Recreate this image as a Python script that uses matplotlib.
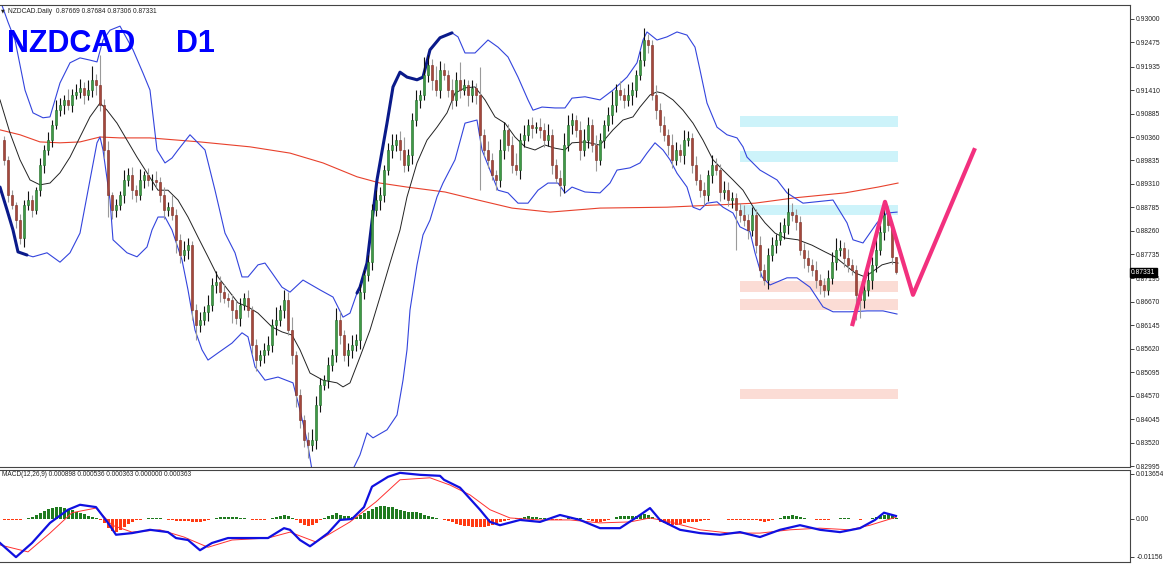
import matplotlib
matplotlib.use("Agg")
import matplotlib.pyplot as plt
import numpy as np

# ---- daily candles (one bar per day), price ----
first_open = 0.9029
closes = [
    0.8985, 0.8906, 0.8884, 0.8850, 0.8810, 0.8884, 0.8895, 0.8873, 0.8917, 0.8973,
    0.9007, 0.9029, 0.9063, 0.9096, 0.9108, 0.9119, 0.9108, 0.9130, 0.9137, 0.9146,
    0.9130, 0.9141, 0.9164, 0.9152, 0.9108, 0.9007, 0.8906, 0.8873, 0.8884, 0.8906,
    0.8940, 0.8951, 0.8917, 0.8906, 0.8940, 0.8951, 0.8940, 0.8940, 0.8935, 0.8906,
    0.8873, 0.8880, 0.8862, 0.8806, 0.8772, 0.8783, 0.8794, 0.8649, 0.8615, 0.8627,
    0.8645, 0.8660, 0.8705, 0.8712, 0.8689, 0.8676, 0.8671, 0.8649, 0.8631, 0.8660,
    0.8676, 0.8649, 0.8571, 0.8537, 0.8548, 0.8560, 0.8571, 0.8615, 0.8627, 0.8649,
    0.8671, 0.8604, 0.8548, 0.8459, 0.8403, 0.8358, 0.8347, 0.8358, 0.8437, 0.8481,
    0.8492, 0.8526, 0.8548, 0.8627, 0.8593, 0.8548, 0.8560, 0.8571, 0.8582, 0.8689,
    0.8727, 0.8756, 0.8873, 0.8895, 0.8906, 0.8962, 0.9007, 0.9018, 0.9029, 0.9007,
    0.8973, 0.8996, 0.9074, 0.9119, 0.9130, 0.9175, 0.9197, 0.9164, 0.9141, 0.9186,
    0.9175, 0.9141, 0.9119, 0.9164, 0.9141, 0.9152, 0.9130, 0.9146, 0.9130, 0.9041,
    0.9007, 0.8985, 0.8951, 0.8940, 0.9007, 0.9052, 0.9018, 0.8973, 0.8962, 0.9029,
    0.9041, 0.9063, 0.9056, 0.9058, 0.9052, 0.9029, 0.9041, 0.8973, 0.8944, 0.8929,
    0.9018, 0.9063, 0.9074, 0.9052, 0.9007, 0.9029, 0.9063, 0.9018, 0.8985, 0.9029,
    0.9063, 0.9085, 0.9108, 0.9141, 0.9130, 0.9119, 0.9130, 0.9141, 0.9175, 0.9208,
    0.9253, 0.9242, 0.9130, 0.9096, 0.9063, 0.9041, 0.9018, 0.8985, 0.9007, 0.8996,
    0.9029, 0.9034, 0.8973, 0.8940, 0.8917, 0.8906, 0.8951, 0.8973, 0.8962, 0.8913,
    0.8917, 0.8895, 0.8900, 0.8873, 0.8862, 0.8850, 0.8828, 0.8862, 0.8794, 0.8739,
    0.8716, 0.8772, 0.8794, 0.8806, 0.8824, 0.8839, 0.8868, 0.8862, 0.8846, 0.8783,
    0.8765, 0.8750, 0.8739, 0.8716, 0.8705, 0.8694, 0.8721, 0.8756, 0.8783, 0.8788,
    0.8765, 0.8750, 0.8739, 0.8683, 0.8671, 0.8694, 0.8716, 0.8750, 0.8783, 0.8824,
    0.8862, 0.8839, 0.87669, 0.87331,
]
# wick lengths in pips above / below the body
upper_wick = [
    10, 8, 12, 6, 14, 10, 20, 12, 8, 15, 10, 18, 12, 22, 16, 10,
    25, 14, 18, 20, 12, 22, 30, 14, 67, 12, 20, 8, 14, 10, 22, 16,
    18, 12, 24, 10, 16, 14, 20, 12, 18, 10, 26, 14, 12, 20, 16, 10,
    14, 18, 12, 22, 16, 24, 12, 18, 10, 14, 20, 16, 12, 18, 10, 14,
    12, 16, 20, 14, 28, 12, 22, 18, 30, 10, 14, 12, 18, 24, 20, 16,
    12, 18, 14, 26, 20, 12, 16, 22, 14, 18, 12, 16, 14, 22, 18, 12,
    16, 24, 14, 20, 28, 14, 16, 22, 12, 40, 22, 14, 30, 20, 16, 12,
    24, 18, 40, 14, 12, 18, 10, 63, 14, 20, 16, 12, 24, 18, 14, 20,
    28, 16, 22, 14, 18, 12, 20, 16, 24, 12, 14, 18, 28, 22, 16, 12,
    20, 26, 18, 14, 22, 16, 12, 18, 30, 14, 20, 16, 24, 18, 12, 20,
    27, 14, 10, 22, 16, 20, 12, 24, 18, 14, 22, 16, 12, 20, 14, 18,
    12, 22, 16, 14, 20, 18, 12, 10, 16, 22, 14, 18, 12, 20, 14, 16,
    18, 14, 22, 16, 54, 20, 12, 14, 16, 18, 12, 20, 14, 16, 18, 22,
    26, 18, 14, 20, 12, 10, 14, 16, 20, 18, 24, 16, 14, 20, 8, 1.5,
]
lower_wick = [
    12, 16, 10, 18, 14, 20, 12, 16, 10, 14, 18, 12, 16, 10, 14, 20,
    12, 16, 10, 14, 20, 12, 16, 22, 14, 18, 50, 20, 16, 12, 18, 14,
    20, 16, 12, 18, 14, 22, 10, 16, 20, 14, 12, 30, 18, 14, 20, 22,
    34, 16, 12, 20, 14, 18, 22, 12, 16, 28, 14, 18, 12, 16, 20, 24,
    14, 18, 12, 16, 22, 14, 18, 12, 20, 26, 18, 16, 28, 14, 20, 16,
    12, 18, 14, 16, 20, 12, 24, 18, 14, 20, 16, 12, 18, 14, 22, 16,
    12, 18, 14, 22, 16, 12, 20, 14, 18, 12, 16, 22, 14, 18, 12, 16,
    20, 14, 18, 12, 24, 16, 20, 123, 14, 18, 12, 22, 16, 20, 14, 18,
    12, 20, 16, 14, 22, 12, 18, 16, 14, 20, 12, 26, 18, 14, 20, 16,
    22, 14, 18, 16, 24, 12, 18, 14, 20, 16, 12, 18, 14, 22, 16, 12,
    14, 18, 12, 20, 16, 14, 22, 18, 12, 16, 20, 14, 18, 12, 16, 22,
    14, 18, 12, 20, 16, 14, 18, 90, 16, 12, 20, 14, 18, 16, 12, 20,
    14, 18, 12, 16, 20, 14, 18, 12, 22, 16, 14, 18, 20, 16, 12, 14,
    18, 14, 20, 16, 12, 56, 40, 18, 14, 20, 16, 12, 18, 14, 16, 2.5,
]

# ---- Bollinger bands (20) and long moving average, sampled along the chart ----
upper_x = [-1, 1, 2.75, 5.25, 7.25, 9.75, 11.5, 14, 16.5, 19, 21.5, 23.25, 24.75, 26.5, 29,
           32.25, 34.75, 36.5, 38.25, 40.25, 42, 43.5, 46.5, 50.25, 52.75, 55.25, 57.75,
           59.5, 61, 63.5, 65.25, 67, 69.5, 71.5, 74.75, 79, 82.25, 84.75, 86.5, 88.25, 89,
           90.75, 93.25, 95.75, 97.25, 99, 100.75, 103.25, 104.75, 106.5, 109, 112, 113.5,
           115.25, 117.75, 121, 123.5, 126, 128.5, 131, 132.25, 134.5, 137.75, 140.25, 142,
           145.25, 149, 152.25, 155.75, 158.25, 159.75, 160.75, 163.25, 165.75, 168.25,
           170.75, 172.75, 174, 175.75, 178.25, 180.75, 183.25, 184.75, 185.75, 189,
           193.25, 195.75, 199.75, 207.25, 210.75, 212.25, 214.75, 218.25, 220.75, 223.25]
upper_band = [0.9343, 0.9293, 0.9253, 0.9141, 0.9090, 0.9079, 0.9081, 0.9157, 0.9202, 0.9213,
              0.9208, 0.9204, 0.9253, 0.9275, 0.9284, 0.9231, 0.9179, 0.9141, 0.9007, 0.8978,
              0.8989, 0.9007, 0.9041, 0.9007, 0.8917, 0.8821, 0.8777, 0.8723, 0.8723, 0.8750,
              0.8754, 0.8732, 0.8700, 0.8689, 0.8716, 0.8694, 0.8678, 0.8633, 0.8642, 0.8687,
              0.8700, 0.8754, 0.8940, 0.9067, 0.9148, 0.9181, 0.9170, 0.9164, 0.9170, 0.9231,
              0.9258, 0.9269, 0.9260, 0.9224, 0.9224, 0.9253, 0.9237, 0.9215, 0.9170, 0.9119,
              0.9096, 0.9103, 0.9101, 0.9101, 0.9123, 0.9126, 0.9119, 0.9141, 0.9170, 0.9202,
              0.9253, 0.9271, 0.9253, 0.9260, 0.9271, 0.9264, 0.9237, 0.9186, 0.9112, 0.9058,
              0.9041, 0.9034, 0.9014, 0.8991, 0.8962, 0.8940, 0.8911, 0.8888, 0.8895, 0.8844,
              0.8806, 0.8799, 0.8844, 0.8866, 0.8868]
lower_x = [-1, 0.75, 2.25, 3.5, 5.75, 7.25, 10.75, 14, 16.5, 19, 21.5, 23.25, 24, 24.75, 26.5,
           27.25, 30.75, 33.25, 35.75, 37, 38.5, 40.25, 42, 44.5, 46, 47.75, 49.5, 51, 53.5,
           57, 59.5, 61, 62.75, 65.25, 68.5, 72.25, 74, 75.75, 77, 79, 84, 87.75, 89, 90.75,
           92.25, 95.75, 98.25, 99.75, 100.75, 101.5, 103.25, 104.75, 106.5, 108.25, 109.75,
           112.75, 115.25, 118.25, 119.5, 121.5, 123.5, 126, 128.5, 131, 133.5, 136, 138.5,
           140.25, 142, 145.25, 149, 151.5, 153.25, 156.5, 159, 160.75, 162.75, 164.75,
           166.5, 168.25, 170.75, 172.25, 174, 175.75, 178.25, 179.75, 182.25, 184, 186.5,
           187.75, 189.5, 191.5, 195.75, 198.25, 201.5, 204.75, 207.25, 211.5, 215.75,
           219.75, 223.25]
lower_band = [0.8924, 0.8873, 0.8828, 0.8779, 0.8772, 0.8768, 0.8777, 0.8756, 0.8777, 0.8821,
              0.8940, 0.9023, 0.9036, 0.9007, 0.8895, 0.8806, 0.8777, 0.8768, 0.8790, 0.8828,
              0.8857, 0.8857, 0.8828, 0.8761, 0.8694, 0.8604, 0.8560, 0.8537, 0.8553, 0.8575,
              0.8598, 0.8589, 0.8522, 0.8492, 0.8499, 0.8486, 0.8425, 0.8358, 0.8291, 0.8235,
              0.8235, 0.8302, 0.8325, 0.8374, 0.8363, 0.8381, 0.8414, 0.8492, 0.8560, 0.8649,
              0.8750, 0.8817, 0.8850, 0.8902, 0.8933, 0.8985, 0.9067, 0.9074, 0.9007, 0.8962,
              0.8917, 0.8911, 0.8888, 0.8888, 0.8917, 0.8933, 0.8933, 0.8911, 0.8924, 0.8913,
              0.8911, 0.8933, 0.8962, 0.8967, 0.8978, 0.9000, 0.9023, 0.9007, 0.8985, 0.8955,
              0.8924, 0.8879, 0.8873, 0.8888, 0.8891, 0.8879, 0.8866, 0.8835, 0.8824, 0.8777,
              0.8723, 0.8705, 0.8721, 0.8721, 0.8700, 0.8656, 0.8645, 0.8645, 0.8647, 0.8647,
              0.8640]
mid_x = [-1, 1.5, 4, 6.5, 9, 11.5, 14, 16.5, 19, 21.5, 24, 25.75, 28.25, 30.75, 33.25, 35.75,
         38.5, 41, 43.5, 46, 48.5, 51, 53.5, 56, 58.5, 61, 63.5, 67, 69.5, 72, 74, 76.5, 79.75,
         83.25, 84.75, 86.5, 89, 91.5, 94, 96.5, 99, 100.75, 103.25, 105.75, 108.25, 110.75,
         112.75, 115.25, 117.75, 120.25, 122.75, 125.25, 127.75, 130.25, 132.75, 135.25,
         137.75, 140.25, 142, 145.25, 149, 152.25, 154.75, 157.25, 159, 161.5, 163.25, 164.75,
         167.25, 169.75, 172.25, 174.75, 177.25, 179.75, 182.25, 184.75, 187.75, 190.25,
         192.75, 195.25, 198.5, 202, 205.25, 207.75, 210.25, 212.75, 215.25, 217, 219.5, 222,
         223.5]
mid_band = [0.9119, 0.9045, 0.8985, 0.8940, 0.8929, 0.8933, 0.8956, 0.8991, 0.9036, 0.9081,
            0.9112, 0.9096, 0.9067, 0.9029, 0.8991, 0.8956, 0.8917, 0.8917, 0.8895, 0.8857,
            0.8812, 0.8768, 0.8723, 0.8694, 0.8665, 0.8656, 0.8642, 0.8611, 0.8600, 0.8593,
            0.8560, 0.8508, 0.8492, 0.8486, 0.8477, 0.8486, 0.8544, 0.8604, 0.8678, 0.8754,
            0.8828, 0.8902, 0.8978, 0.9029, 0.9058, 0.9090, 0.9134, 0.9146, 0.9148, 0.9119,
            0.9081, 0.9067, 0.9036, 0.9014, 0.9007, 0.9018, 0.9011, 0.9007, 0.9023, 0.9025,
            0.9018, 0.9052, 0.9074, 0.9081, 0.9103, 0.9130, 0.9137, 0.9134, 0.9119, 0.9096,
            0.9067, 0.9029, 0.8985, 0.8962, 0.8940, 0.8917, 0.8873, 0.8844, 0.8821, 0.8810,
            0.8806, 0.8794, 0.8779, 0.8768, 0.8750, 0.8732, 0.8723, 0.8734, 0.8750, 0.8756,
            0.8754]
ma_x = [-1, 4, 9, 14, 19, 24, 29, 36.5, 49, 61.5, 71.5, 79.75, 88.25, 94, 100.75, 110.25,
        118.5, 127, 136.5, 149, 165.75, 178.25, 187.75, 197.75, 210.25, 218.5, 223.5]
ma_long = [0.9052, 0.9041, 0.9025, 0.9023, 0.9025, 0.9036, 0.9034, 0.9034, 0.9025, 0.9014,
           0.9000, 0.8978, 0.8947, 0.8933, 0.8924, 0.8913, 0.8895, 0.8877, 0.8868, 0.8877,
           0.8879, 0.8884, 0.8888, 0.8900, 0.8911, 0.8924, 0.8933]

# ---- supply / demand zones and the drawn zig-zag ----
zone_x = (184, 223.5)
blue_zones = [(0.9058, 0.9083), (0.8980, 0.9005), (0.8862, 0.8884)]
pink_zones = [(0.8689, 0.8714), (0.8649, 0.8674), (0.8450, 0.8472)]
zig_x = [212, 220.25, 227.25, 242.75]
zig_y = [0.8613, 0.8891, 0.8683, 0.9011]

price_ticks = [0.93000, 0.92475, 0.91935, 0.91410, 0.90885, 0.90360, 0.89835, 0.89310,
               0.88785, 0.88260, 0.87735, 0.87195, 0.86670, 0.86145, 0.85620, 0.85095,
               0.84570, 0.84045, 0.83520, 0.82995]

# ---- MACD(12,26,9), values in 1e-4 ----
macd_hist = [
    -3, -4, -4, -3, -2, -1, 2, 6, 12, 18,
    24, 30, 34, 36, 35, 33, 30, 26, 22, 18,
    14, 10, 6, 2, -3, -13, -28, -36, -39, -33,
    -24, -15, -8, -3, -2, 1, 2, 3, 3, 2,
    -1, -3, -4, -6, -7, -7, -6, -8, -9, -8,
    -6, -2, 1, 3, 6, 7, 7, 6, 6, 4,
    2, -1, -3, -4, -3, -2, -1, 2, 6, 9,
    11, 9, 3, -4, -13, -19, -22, -19, -11, -3,
    3, 9, 13, 17, 13, 10, 8, 7, 7, 11,
    18, 24, 31, 35, 38, 38, 37, 35, 31, 28,
    24, 22, 22, 20, 17, 13, 10, 7, 3, 1,
    -2, -6, -10, -14, -18, -21, -22, -23, -24, -24,
    -24, -22, -19, -15, -10, -7, -4, -1, 2, 4,
    7, 8, 7, 6, 3, 2, 1, -2, -3, -3,
    -1, 2, 4, 4, 2, -1, -3, -6, -8, -9,
    -7, -3, 1, 6, 9, 10, 10, 9, 10, 12,
    14, 13, 7, -1, -8, -13, -17, -19, -18, -15,
    -12, -9, -8, -8, -7, -4, -2, 0, 1, 0,
    -1, -2, -2, -2, -2, -3, -4, -3, -4, -7,
    -8, -6, -2, 1, 4, 8, 10, 11, 10, 7,
    3, 1, -1, -2, -3, -4, -3, -1, 1, 3,
    3, 2, 1, -1, -2, -1, 1, 3, 7, 10,
    13, 14, 11, 3.63,
]
macd_x = [-1, 3, 7, 11.5, 16, 19, 23, 26, 28, 32, 36.5, 41, 43, 46, 49, 52, 56, 59, 66, 70,
          71.5, 74, 76.5, 78, 81, 84, 87, 90, 92, 96, 99, 104, 109, 110, 114, 119, 121.5, 124,
          129, 134, 139, 144, 149, 154, 159, 161.5, 164, 169, 174, 179, 184, 189, 194, 199,
          204, 209, 214, 217.75, 220, 223]
macd_main = [-73, -116, -73, -12, 28, 43, 36, -12, -48, -43, -33, -40, -58, -64, -95, -73,
             -58, -58, -58, -28, -33, -64, -83, -70, -43, -3, 0, 36, 98, 128, 140, 134, 131,
             119, 95, 28, -9, -19, -3, -9, 12, -3, -28, -28, 12, 33, -3, -33, -43, -48, -40,
             -55, -33, -19, -33, -40, -28, -3, 19, 8.98]
signal_x = [-1, 6, 11.5, 17, 23, 27, 32, 39, 45, 51, 57, 66, 71.5, 78, 86.5, 93, 99, 106.5,
            111.5, 116.5, 121.5, 126.5, 134, 141.5, 149, 156.5, 161.5, 166.5, 174, 181.5, 189,
            196.5, 204, 211.5, 216.5, 223]
macd_signal = [-79, -100, -43, 19, 33, -19, -40, -33, -55, -86, -64, -58, -40, -70, -9, 52,
               119, 125, 103, 73, 28, 3, -3, -3, -12, -9, 3, -9, -33, -43, -43, -33, -28, -33,
               -19, 5.36]

# ---------------------------------------------------------------------------
W, H = 1163, 565
plt.rcParams['font.family'] = ['Liberation Sans', 'DejaVu Sans']
fig = plt.figure(figsize=(W / 100, H / 100), dpi=100)


def fy(py):
    return 1 - py / H


ax = fig.add_axes([0, fy(467), 1130 / W, fy(5) - fy(467)])
axm = fig.add_axes([0, fy(562), 1130 / W, fy(470) - fy(562)])

closes = np.array(closes)
opens = np.concatenate([[first_open], closes[:-1]])
bars = np.arange(len(closes))
highs = np.maximum(opens, closes) + np.array(upper_wick) * 1e-4
lows = np.minimum(opens, closes) - np.array(lower_wick) * 1e-4
bull = closes >= opens

# zones behind everything
for lo, hi in blue_zones:
    ax.fill_between(zone_x, lo, hi, color='#cdf3fa', lw=0, zorder=0)
for lo, hi in pink_zones:
    ax.fill_between(zone_x, lo, hi, color='#fbdcd5', lw=0, zorder=0)

# indicators
ax.plot(ma_x, ma_long, color='#e8412c', lw=0.8, zorder=2)
ax.plot(upper_x, upper_band, color='#3344dd', lw=0.8, zorder=2)
ax.plot(lower_x, lower_band, color='#3344dd', lw=0.8, zorder=2)
ax.plot(mid_x, mid_band, color='#222222', lw=0.7, zorder=2)
ux, ub = np.array(upper_x), np.array(upper_band)
sel = (ux >= 88) & (ux <= 112)
ax.plot(ux[sel], ub[sel], color='#0a1a8a', lw=2.2, zorder=2, solid_capstyle='round')
lx, lb = np.array(lower_x), np.array(lower_band)
sel = lx <= 6
ax.plot(lx[sel], lb[sel], color='#0a1a8a', lw=2.2, zorder=2, solid_capstyle='round')

# candles
ax.vlines(bars[bull], lows[bull], highs[bull], color='#111111', lw=0.8, zorder=3)
ax.vlines(bars[~bull], lows[~bull], highs[~bull], color='#9a9a9a', lw=0.8, zorder=3)
body_lo = np.minimum(opens, closes)
body_h = np.maximum(np.abs(closes - opens), 0.00006)
ax.bar(bars[bull], body_h[bull], bottom=body_lo[bull], width=0.72,
       color='#3f9a46', edgecolor='#1f6a26', lw=0.4, zorder=4)
ax.bar(bars[~bull], body_h[~bull], bottom=body_lo[~bull], width=0.72,
       color='#a4483c', edgecolor='#7a2a20', lw=0.4, zorder=4)

# hand drawn zig-zag
ax.plot(zig_x, zig_y, color='#f2307e', lw=3.0, zorder=6, solid_capstyle='butt')

ax.set_xlim(-1, 281.5)
ax.set_ylim(0.82978, 0.93313)
ax.yaxis.tick_right()
ax.set_yticks(price_ticks)
ax.set_yticklabels([f'{v:.5f}' for v in price_ticks])
ax.tick_params(axis='y', length=3, width=0.6, labelsize=4.9, pad=1.5, colors='#222222')
ax.set_xticks([])
ax.spines['left'].set_visible(False)
for s in ['right', 'top', 'bottom']:
    ax.spines[s].set_color('#444444')
    ax.spines[s].set_linewidth(0.8)

# current price label
ax.text(1.001, closes[-1], f'{closes[-1]:.5f}', transform=ax.get_yaxis_transform(),
        fontsize=4.9, color='white', va='center', ha='left', zorder=10,
        bbox=dict(boxstyle='square,pad=0.2', fc='black', ec='black'))

ax.text(0.007, 0.987, 'NZDCAD.Daily  0.87669 0.87684 0.87306 0.87331', transform=ax.transAxes,
        fontsize=4.8, color='#222222', va='center', ha='left')
ax.text(0.0012, 0.987, '\u25bc', transform=ax.transAxes, fontsize=3.5, color='#222222',
        va='center', ha='left', family='DejaVu Sans')
ax.text(0.006, 0.8983, 'NZDCAD', transform=ax.transAxes, fontsize=22, fontweight='bold',
        color='#0000ff', va='baseline', ha='left')
ax.text(0.1555, 0.8983, 'D1', transform=ax.transAxes, fontsize=22, fontweight='bold',
        color='#0000ff', va='baseline', ha='left')

# MACD panel
hist = np.array(macd_hist) * 1e-4
hb = np.arange(len(hist))
axm.bar(hb[hist >= 0], hist[hist >= 0], width=0.75, color='#1f7a1f', lw=0)
axm.bar(hb[hist < 0], hist[hist < 0], width=0.75, color='#ff3a12', lw=0)
axm.plot(signal_x, np.array(macd_signal) * 1e-4, color='#ff3030', lw=0.7)
axm.plot(macd_x, np.array(macd_main) * 1e-4, color='#1010e0', lw=1.6)
axm.set_xlim(-1, 281.5)
axm.set_ylim(-0.013079, 0.014869)
axm.yaxis.tick_right()
axm.set_yticks([0.013654, 0.0, -0.01156])
axm.set_yticklabels(['0.013654', '0.00', '-0.01156'])
axm.tick_params(axis='y', length=3, width=0.6, labelsize=4.9, pad=1.5, colors='#222222')
axm.set_xticks([])
axm.spines['left'].set_visible(False)
for s in ['right', 'top', 'bottom']:
    axm.spines[s].set_color('#444444')
    axm.spines[s].set_linewidth(0.8)
axm.text(0.002, 0.946, 'MACD(12,26,9) 0.000898 0.000536 0.000363 0.000000 0.000363',
         transform=axm.transAxes, fontsize=4.7, color='#222222', va='center', ha='left')

fig.savefig('out.png', dpi=100, facecolor='white')
